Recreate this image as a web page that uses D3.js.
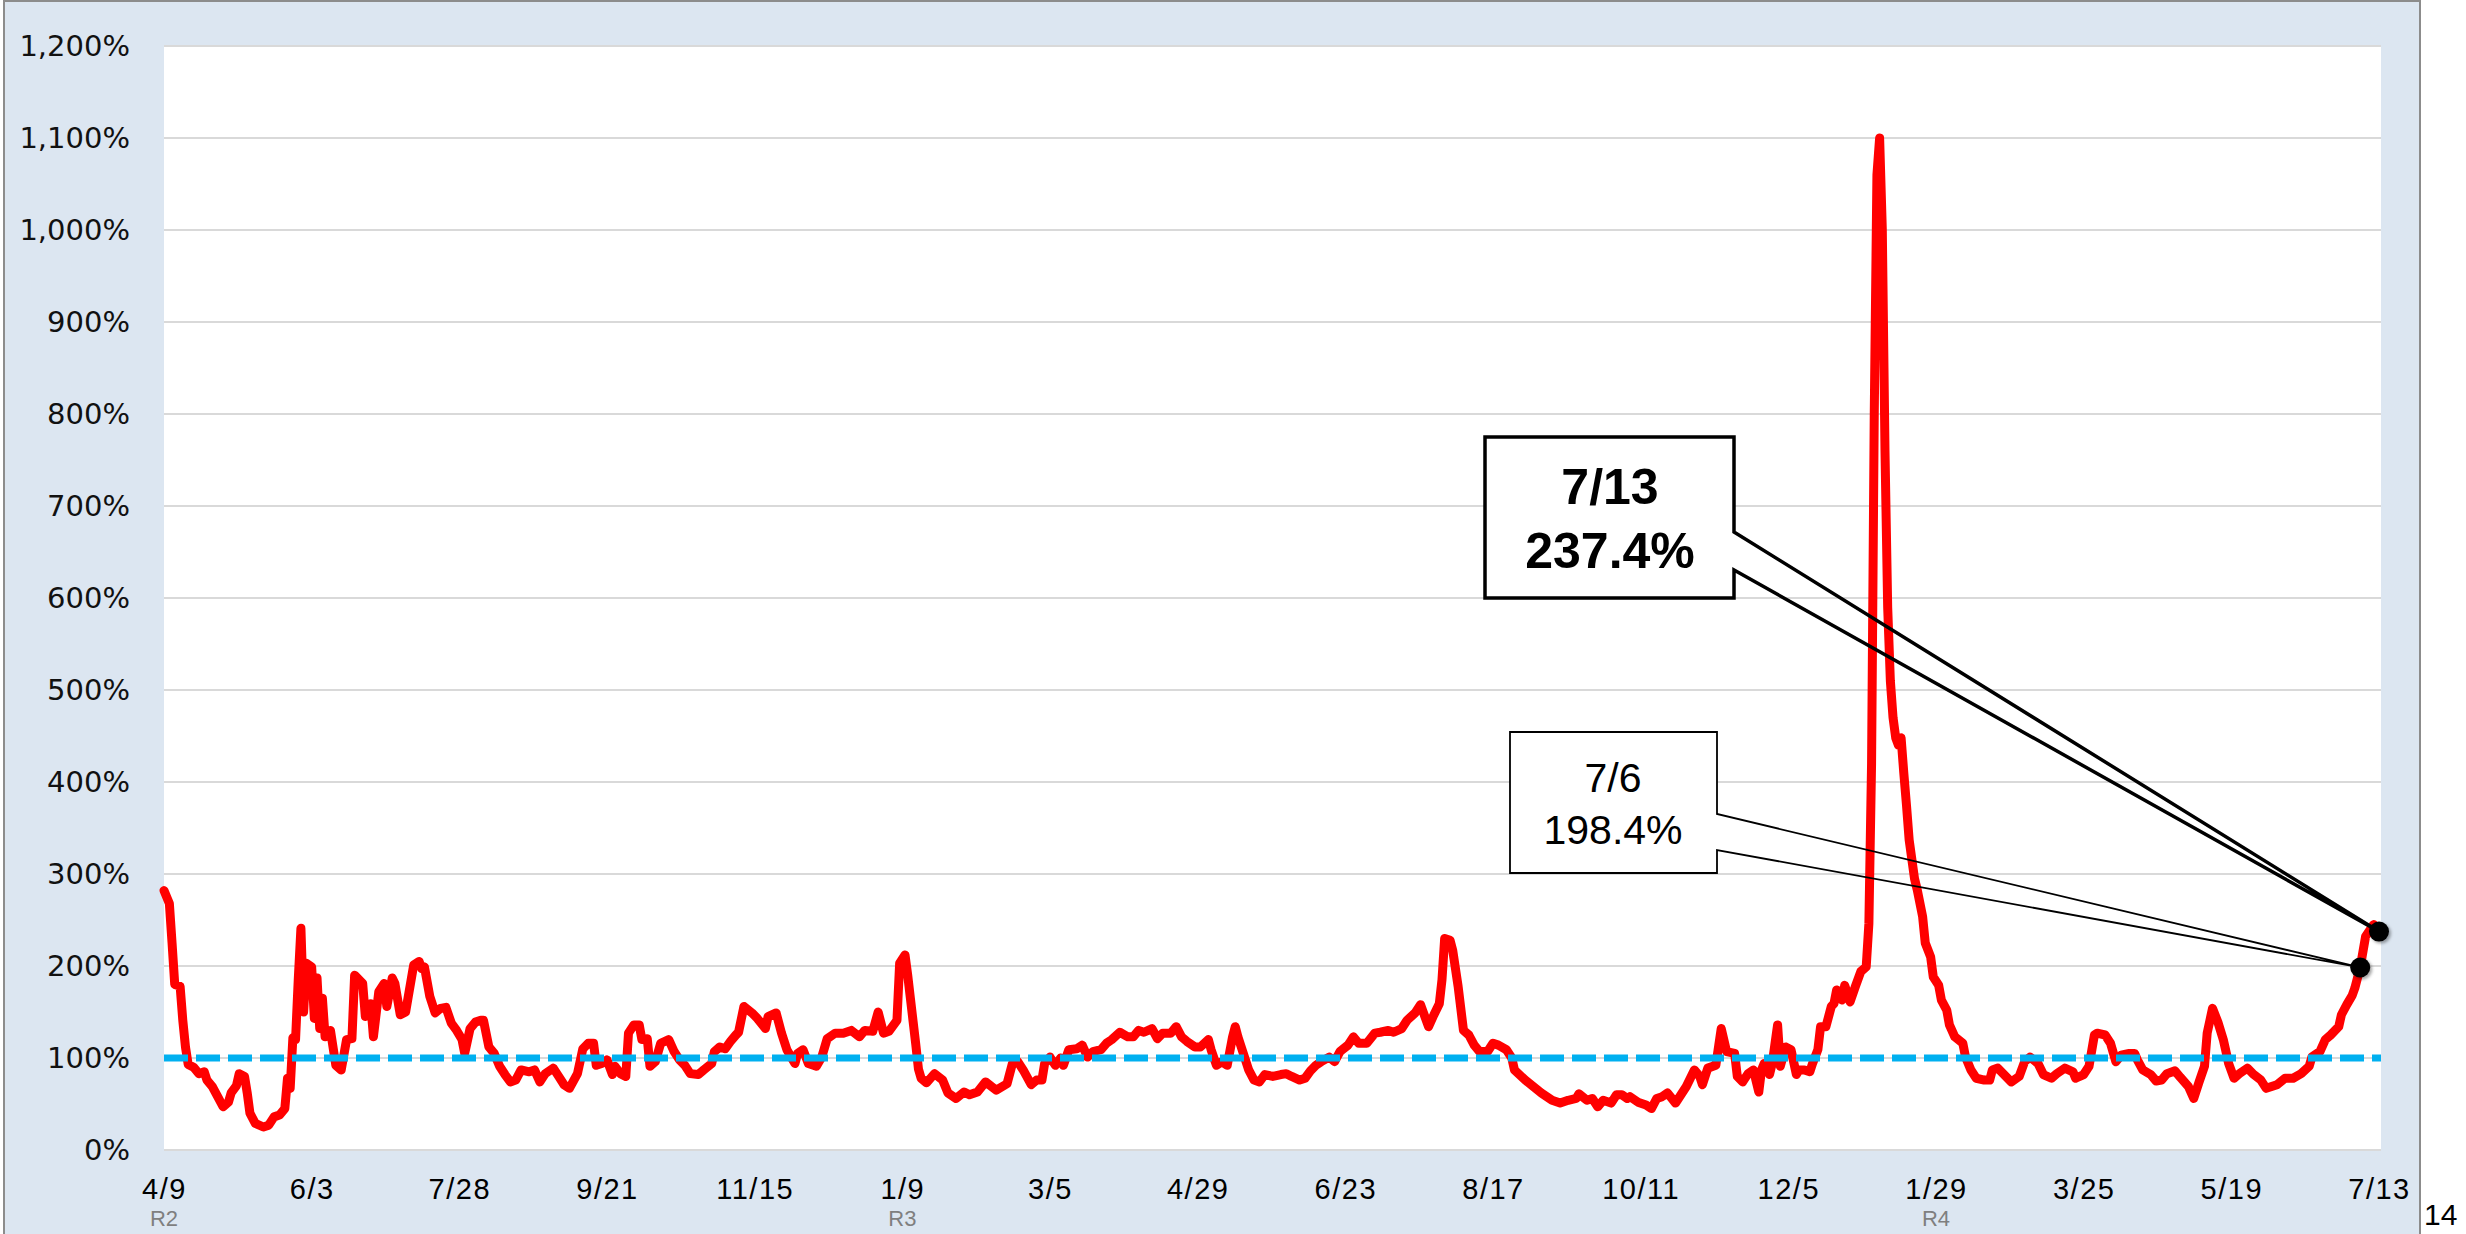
<!DOCTYPE html>
<html>
<head>
<meta charset="utf-8">
<script src="https://cdn.jsdelivr.net/npm/d3@7"></script>
<style>
  html, body { margin: 0; padding: 0; background: #fff; }
  svg { display: block; }
</style>
</head>
<body>
<svg id="chart" width="2466" height="1234"></svg>
<script>
// week-over-week ratio (%)
const START_DATE = "2020-04-09";

// days after START_DATE
const dayOffsets = [
  0, 2, 3, 4, 6, 7, 8, 9, 11, 13, 15, 16, 18, 20, 22, 24, 25, 27, 28, 30,
  31, 32, 34, 37, 39, 41, 43, 45, 46, 47, 48, 49, 50, 51, 52, 53, 55, 56, 57, 58,
  59, 60, 62, 64, 66, 68, 70, 71, 74, 75, 77, 78, 80, 82, 83, 85, 86, 88, 90, 91,
  93, 95, 96, 97, 99, 101, 103, 105, 107, 109, 111, 112, 114, 116, 118, 119, 121, 123, 125, 127,
  129, 131, 133, 136, 138, 140, 142, 145, 147, 149, 151, 154, 156, 158, 160, 161, 163, 165, 167, 168,
  170, 172, 173, 175, 177, 178, 180, 181, 183, 185, 188, 190, 192, 194, 196, 199, 201, 204, 205, 207,
  209, 211, 213, 214, 216, 219, 221, 224, 225, 228, 230, 232, 235, 236, 238, 240, 243, 245, 247, 250,
  253, 256, 259, 261, 264, 266, 268, 270, 273, 274, 276, 277, 278, 279, 280, 281, 282, 284, 287, 290,
  292, 295, 298, 300, 303, 306, 310, 314, 316, 318, 320, 323, 325, 327, 328, 330, 332, 334, 335, 337,
  340, 342, 344, 346, 349, 351, 353, 356, 359, 361, 363, 365, 368, 370, 372, 375, 377, 379, 381, 384,
  386, 389, 390, 392, 394, 396, 398, 399, 400, 402, 404, 406, 408, 410, 413, 416, 418, 420, 423, 425,
  427, 429, 431, 434, 436, 438, 441, 443, 445, 448, 451, 453, 456, 458, 461, 463, 466, 468, 469, 471,
  473, 475, 476, 477, 479, 480, 482, 484, 486, 488, 490, 493, 495, 497, 500, 502, 503, 507, 510, 513,
  517, 520, 523, 526, 527, 530, 532, 534, 536, 539, 541, 543, 545, 546, 549, 552, 554, 556, 558, 560,
  563, 565, 567, 570, 572, 573, 575, 578, 579, 580, 582, 585, 586, 588, 590, 592, 594, 595, 596, 598,
  599, 601, 602, 604, 606, 608, 609, 611, 613, 614, 616, 617, 619, 621, 622, 623, 625, 626, 628, 630,
  632, 634, 635, 636, 637, 638, 639, 640, 641, 642, 643, 644, 645, 646, 647, 648, 649, 650, 652, 653,
  655, 656, 658, 659, 661, 662, 664, 665, 667, 670, 671, 673, 675, 678, 680, 681, 683, 686, 688, 691,
  693, 695, 698, 700, 703, 705, 708, 711, 712, 715, 717, 719, 720, 723, 725, 727, 729, 732, 734, 735,
  737, 740, 742, 744, 746, 749, 751, 754, 756, 758, 760, 761, 763, 765, 767, 769, 771, 773, 776, 778,
  781, 783, 787, 790, 793, 796, 799, 800, 803, 805, 807, 810, 811, 813, 815, 816, 818, 820, 823, 825
];

const ratios = [
  282, 268, 225, 180, 178, 141, 112, 93, 90, 83, 85, 76, 69, 58, 47, 52, 62, 70, 83, 80,
  62, 40, 29, 25, 27, 36, 38, 45, 78, 67, 122, 120, 185, 241, 150, 203, 199, 143, 187, 132,
  165, 123, 130, 92, 87, 120, 121, 190, 181, 145, 159, 123, 172, 181, 156, 187, 181, 147, 150, 167,
  201, 205, 197, 199, 167, 149, 154, 155, 138, 130, 120, 105, 132, 139, 141, 141, 112, 105, 91, 82,
  74, 76, 87, 85, 87, 74, 83, 89, 80, 71, 67, 83, 110, 116, 116, 92, 94, 98, 82, 91,
  83, 80, 127, 136, 136, 120, 121, 91, 96, 116, 120, 107, 98, 92, 83, 82, 87, 94, 107, 112,
  110, 118, 125, 128, 156, 149, 143, 132, 145, 149, 127, 109, 94, 105, 109, 94, 91, 101, 121, 127,
  127, 130, 123, 130, 129, 150, 127, 129, 141, 203, 212, 190, 165, 140, 115, 88, 78, 73, 83, 76,
  62, 56, 63, 60, 63, 74, 65, 72, 94, 96, 87, 71, 76, 76, 94, 101, 92, 100, 92, 109,
  110, 114, 101, 107, 109, 116, 120, 128, 123, 123, 130, 128, 132, 121, 127, 127, 134, 123, 118, 112,
  112, 120, 109, 92, 96, 92, 123, 134, 123, 105, 87, 76, 74, 82, 80, 82, 83, 80, 76, 78,
  86, 92, 96, 101, 96, 107, 114, 123, 116, 116, 127, 128, 130, 128, 132, 141, 149, 158, 150, 134,
  147, 159, 185, 230, 228, 217, 178, 130, 125, 114, 107, 107, 116, 114, 109, 100, 87, 76, 69, 62,
  54, 51, 54, 56, 61, 54, 56, 47, 54, 51, 60, 60, 56, 58, 52, 49, 45, 56, 58, 62,
  51, 60, 69, 87, 80, 71, 89, 92, 112, 132, 107, 105, 80, 74, 83, 87, 63, 87, 94, 82,
  94, 136, 91, 112, 109, 82, 87, 87, 85, 94, 109, 134, 134, 156, 159, 174, 163, 179, 161, 178,
  194, 199, 246, 420, 800, 1060, 1100, 1000, 760, 590, 510, 470, 448, 440, 448, 410, 375, 337, 295, 283,
  254, 225, 210, 188, 179, 163, 152, 136, 123, 116, 101, 87, 78, 76, 76, 87, 89, 80, 74, 80,
  96, 101, 94, 82, 78, 83, 89, 85, 78, 82, 91, 125, 127, 125, 116, 96, 103, 105, 105, 98,
  87, 82, 75, 76, 83, 86, 79, 69, 56, 74, 91, 127, 154, 139, 120, 94, 78, 83, 89, 83,
  76, 67, 71, 78, 78, 83, 91, 101, 107, 120, 125, 134, 147, 158, 168, 176, 198.4, 232, 245, 237.4
];

const yTicks = [0, 100, 200, 300, 400, 500, 600, 700, 800, 900, 1000, 1100, 1200];
const xTickDates = [
  "2020-04-09", "2020-06-03", "2020-07-28", "2020-09-21", "2020-11-15", "2021-01-09",
  "2021-03-05", "2021-04-29", "2021-06-23", "2021-08-17", "2021-10-11", "2021-12-05",
  "2022-01-29", "2022-03-25", "2022-05-19", "2022-07-13"
];
const eraDates = ["2020-04-09", "2021-01-09", "2022-01-29"];
const eraNames = ["R2", "R3", "R4"];
const baseline = 100;

// callouts: date, first line, second line
const calloutDates = ["2022-07-13", "2022-07-06"];
const calloutLines = [["7/13", "237.4%"], ["7/6", "198.4%"]];
const pageNumber = "14";

const W = 2466, H = 1234;
const plot = { left: 164, right: 2381, top: 46, bottom: 1150 };

const parse = d3.utcParse("%Y-%m-%d");
const fmtMD = d3.utcFormat("%-m/%-d");
const start = parse(START_DATE);
const series = dayOffsets.map((d, i) => ({ date: d3.utcDay.offset(start, d), v: ratios[i] }));
const lastDate = parse(xTickDates[xTickDates.length - 1]);

const x = d3.scaleUtc().domain([start, lastDate]).range([plot.left, 2379]);
const y = d3.scaleLinear().domain([0, 1200]).range([plot.bottom, plot.top]);

const svg = d3.select("#chart");

const defs = svg.append("defs");
const blur = defs.append("filter").attr("id", "shadow")
  .attr("x", "-50%").attr("y", "-50%").attr("width", "200%").attr("height", "200%");
blur.append("feGaussianBlur").attr("stdDeviation", 1.5);

// outer panel
svg.append("rect")
  .attr("x", 4).attr("y", 1).attr("width", 2416).attr("height", H + 10)
  .attr("fill", "#dce6f1").attr("stroke", "#8c8c8c").attr("stroke-width", 2);

svg.append("text")
  .attr("x", 2424).attr("y", 1225)
  .attr("font-family", "Liberation Sans, Arial, sans-serif")
  .attr("font-size", 30).attr("fill", "#000")
  .text(pageNumber);

// plot area
svg.append("rect")
  .attr("x", plot.left).attr("y", plot.top)
  .attr("width", plot.right - plot.left).attr("height", plot.bottom - plot.top)
  .attr("fill", "#fff");

svg.append("g")
  .selectAll("line")
  .data(yTicks)
  .join("line")
  .attr("x1", plot.left).attr("x2", plot.right)
  .attr("y1", (d) => y(d)).attr("y2", (d) => y(d))
  .attr("stroke", "#d9d9d9").attr("stroke-width", 2);

// y axis labels
const gy = svg.append("g")
  .attr("transform", `translate(${plot.left},0)`)
  .call(d3.axisLeft(y).tickValues(yTicks).tickSize(0).tickPadding(34)
    .tickFormat((d) => d3.format(",")(d) + "%"));
gy.select(".domain").remove();
gy.selectAll("text")
  .attr("font-family", "DejaVu Sans, sans-serif")
  .attr("font-size", 29).attr("fill", "#111");

// x axis labels
const gx = svg.append("g")
  .attr("transform", `translate(0,${plot.bottom})`)
  .call(d3.axisBottom(x).tickValues(xTickDates.map(parse)).tickSize(0).tickPadding(28)
    .tickFormat(fmtMD));
gx.select(".domain").remove();
gx.selectAll("text")
  .attr("font-family", "Liberation Sans, Arial, sans-serif")
  .attr("font-size", 29).attr("letter-spacing", 1.5).attr("fill", "#000");

svg.append("g")
  .selectAll("text")
  .data(eraDates)
  .join("text")
  .attr("x", (d) => x(parse(d)))
  .attr("y", 1226)
  .attr("text-anchor", "middle")
  .attr("font-family", "Liberation Sans, Arial, sans-serif")
  .attr("font-size", 22).attr("fill", "#7f7f7f")
  .text((d, i) => eraNames[i]);

// red ratio line
const line = d3.line()
  .x((d) => x(d.date))
  .y((d) => y(d.v));

svg.append("path")
  .datum(series)
  .attr("d", line)
  .attr("fill", "none")
  .attr("stroke", "#ff0000")
  .attr("stroke-width", 9)
  .attr("stroke-linejoin", "round")
  .attr("stroke-linecap", "round");

// 100% reference line
svg.append("line")
  .attr("x1", plot.left).attr("x2", plot.right)
  .attr("y1", y(baseline)).attr("y2", y(baseline))
  .attr("stroke", "#00b0f0").attr("stroke-width", 7)
  .attr("stroke-dasharray", "24 8");

// callout boxes
const boxes = [
  { l: 1485, t: 437, r: 1734, b: 598, n1: 532, n2: 570, sw: 3.5, size: 50, weight: "bold", base: [504, 568], cx: 1610 },
  { l: 1510, t: 732, r: 1717, b: 873, n1: 814, n2: 850, sw: 1.8, size: 41, weight: "normal", base: [792, 844], cx: 1613 },
];

const pointOf = (i) => {
  const dt = parse(calloutDates[i]);
  const k = series.findIndex((s) => +s.date === +dt);
  return [x(dt), y(series[k].v)];
};

boxes.forEach((b, i) => {
  const [px, py] = pointOf(i);
  const g = svg.append("g");
  g.append("rect")
    .attr("x", b.l).attr("y", b.t).attr("width", b.r - b.l).attr("height", b.b - b.t)
    .attr("fill", "#fff");
  g.append("path")
    .attr("d", `M${b.l},${b.t}H${b.r}V${b.n1}L${px},${py}L${b.r},${b.n2}V${b.b}H${b.l}Z`)
    .attr("fill", "none").attr("stroke", "#000")
    .attr("stroke-width", b.sw).attr("stroke-linejoin", "miter");
  g.selectAll("text.lbl")
    .data(calloutLines[i])
    .join("text")
    .attr("class", "lbl")
    .attr("x", b.cx).attr("y", (d, j) => b.base[j])
    .attr("text-anchor", "middle")
    .attr("font-family", "Liberation Sans, Arial, sans-serif")
    .attr("font-size", b.size).attr("font-weight", b.weight).attr("fill", "#000")
    .text((d) => d);
});

// markers
calloutDates.forEach((d, i) => {
  const [px, py] = pointOf(i);
  svg.append("circle").attr("cx", px + 2).attr("cy", py + 2).attr("r", 10)
    .attr("fill", "rgba(0,0,0,0.35)").attr("filter", "url(#shadow)");
  svg.append("circle").attr("cx", px).attr("cy", py).attr("r", 10).attr("fill", "#000");
});
</script>
</body>
</html>
